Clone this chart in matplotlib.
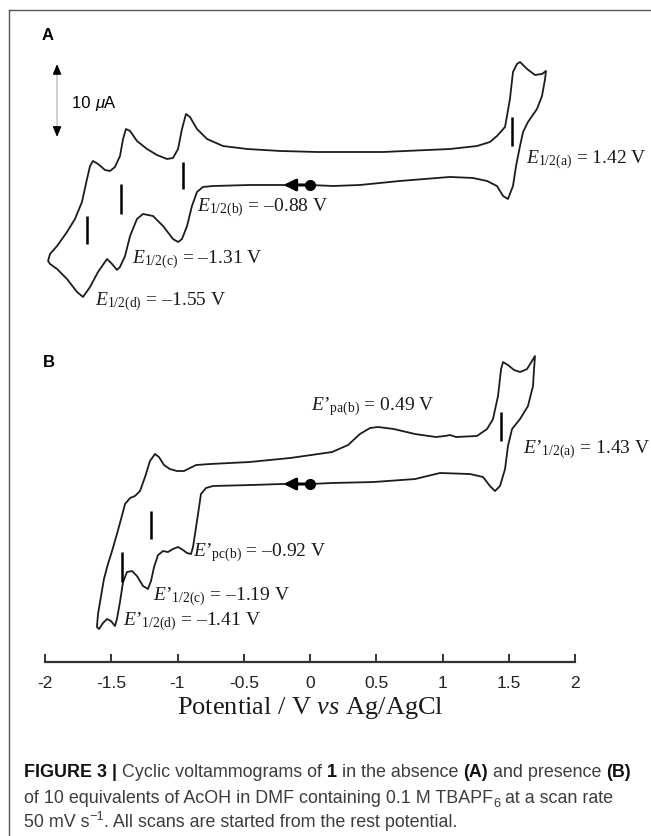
import matplotlib
matplotlib.use("Agg")
import matplotlib.pyplot as plt
from matplotlib.lines import Line2D

plt.rcParams['mathtext.fontset'] = 'custom'
plt.rcParams['mathtext.rm'] = 'Liberation Serif'
plt.rcParams['mathtext.it'] = 'Liberation Serif:italic'
plt.rcParams['mathtext.bf'] = 'Liberation Serif:bold'
plt.rcParams['mathtext.sf'] = 'Liberation Sans'

# ---------------- data ----------------
# Panel A (no AcOH): potential (V) and current (uA, relative to rest-potential point)
a_pot = [0.0, -0.226, -0.453, -0.732, -0.808, -0.853, -0.891, -0.928, -0.966, -0.996,
         -1.034, -1.109, -1.185, -1.260, -1.306, -1.358, -1.396, -1.434, -1.457, -1.494,
         -1.532, -1.600, -1.660, -1.713, -1.758, -1.834, -1.909, -1.962, -1.977,
         -1.962, -1.909, -1.834, -1.774, -1.721, -1.683, -1.660, -1.638, -1.600, -1.547,
         -1.509, -1.472, -1.434, -1.411, -1.389, -1.358, -1.306, -1.230, -1.155, -1.079,
         -1.034, -0.996, -0.966, -0.936, -0.906, -0.853, -0.777, -0.657, -0.475, -0.226,
         0.053, 0.551, 1.057, 1.260, 1.358, 1.411, 1.472, 1.509, 1.532, 1.562,
         1.585, 1.638, 1.698, 1.751, 1.781,
         1.774, 1.751, 1.713, 1.645, 1.608, 1.585, 1.555, 1.532, 1.494, 1.457,
         1.411, 1.336, 1.230, 1.057, 0.679, 0.377, 0.174, 0.0]
a_cur = [0.0, 0.0, 0.0, -0.14, -0.27, -0.96, -2.88, -5.62, -7.40, -7.81,
         -7.40, -5.62, -4.25, -3.97, -4.66, -6.99, -9.73, -11.23, -11.64, -10.82,
         -10.14, -11.92, -13.97, -15.34, -14.66, -12.88, -11.51, -10.82, -10.41,
         -9.45, -8.36, -6.44, -4.66, -2.33, 0.82, 2.60, 3.29, 2.88, 2.05,
         1.92, 2.47, 3.97, 6.30, 7.67, 7.40, 6.03, 4.93, 4.11, 3.56,
         3.70, 4.93, 7.67, 9.73, 9.32, 7.67, 6.30, 5.34, 4.93, 4.66,
         4.52, 4.52, 4.93, 5.34, 5.89, 6.71, 7.95, 11.78, 15.48, 16.58,
         16.85, 15.89, 15.07, 15.21, 15.62,
         14.52, 12.19, 10.41, 8.63, 7.26, 5.34, 2.60, -0.14, -1.92, -1.51,
         -0.14, 0.55, 0.96, 1.10, 0.55, 0.0, -0.14, 0.0]

# Panel B (10 eq AcOH)
b_pot = [0.0, -0.211, -0.453, -0.732, -0.785, -0.823, -0.845, -0.868, -0.883, -0.898,
         -0.928, -0.958, -0.996, -1.034, -1.072, -1.109, -1.147, -1.177, -1.200, -1.223,
         -1.260, -1.306, -1.343, -1.381, -1.411, -1.434, -1.457, -1.472, -1.502, -1.532,
         -1.562, -1.592, -1.608,
         -1.600, -1.577, -1.555, -1.525, -1.494, -1.457, -1.426, -1.396, -1.358, -1.321,
         -1.283, -1.245, -1.208, -1.170, -1.140, -1.102, -1.057, -1.004, -0.951, -0.906,
         -0.860, -0.755, -0.460, -0.151, 0.166, 0.287, 0.377, 0.453, 0.513, 0.634,
         0.792, 0.951, 1.019, 1.057, 1.102, 1.260, 1.336, 1.381, 1.419, 1.442,
         1.457, 1.494, 1.540, 1.585, 1.638, 1.675, 1.698,
         1.691, 1.683, 1.645, 1.585, 1.525, 1.494, 1.472, 1.434, 1.396, 1.358,
         1.306, 1.208, 0.981, 0.792, 0.475, 0.166, 0.0]
b_cur = [0.0, 0.0, -0.14, -0.27, -0.55, -1.37, -4.11, -6.85, -8.63, -9.59,
         -9.45, -9.04, -8.63, -8.90, -9.32, -9.18, -9.73, -11.37, -13.29, -14.38,
         -13.97, -12.60, -11.92, -12.05, -13.42, -16.16, -18.49, -19.45, -18.77, -18.49,
         -19.04, -19.86, -19.59,
         -17.81, -15.34, -13.01, -10.96, -9.18, -6.85, -4.79, -2.74, -1.92, -1.64,
         -0.96, 0.96, 3.15, 4.11, 3.70, 2.60, 2.05, 1.78, 1.78, 2.19,
         2.60, 2.74, 3.01, 3.56, 4.38, 5.34, 6.85, 7.67, 7.81, 7.53,
         6.85, 6.44, 6.58, 6.71, 6.44, 6.58, 7.53, 8.90, 12.05, 15.75,
         16.71, 16.30, 15.62, 15.34, 15.75, 16.85, 17.53,
         15.75, 13.42, 10.68, 8.90, 7.53, 5.21, 2.05, -0.27, -0.96, -0.27,
         0.96, 1.37, 1.51, 0.68, 0.27, 0.14, 0.0]

# E1/2 marker bars: potential, current bottom, current top
a_marks_pot = [-1.683, -1.426, -0.958, 1.525]
a_marks_lo = [-8.08, -3.97, -0.55, 5.34]
a_marks_hi = [-4.25, 0.14, 3.15, 9.32]
b_marks_pot = [-1.419, -1.200, 1.442]
b_marks_lo = [-13.42, -7.53, 5.89]
b_marks_hi = [-9.32, -3.70, 9.86]

# annotation labels (text, potential, current)
a_labels = [(r"$E_{\mathrm{1/2(a)}}$ = 1.42 V", 1.630, 3.56),
            (r"$E_{\mathrm{1/2(b)}}$ = –0.88 V", -0.853, -3.01),
            (r"$E_{\mathrm{1/2(c)}}$ = –1.31 V", -1.343, -10.14),
            (r"$E_{\mathrm{1/2(d)}}$ = –1.55 V", -1.623, -15.89)]
b_labels = [(r"$E\mathrm{’}_{\mathrm{pa(b)}}$ = 0.49 V", 0.008, 10.68),
            (r"$E\mathrm{’}_{\mathrm{1/2(a)}}$ = 1.43 V", 1.608, 4.79),
            (r"$E\mathrm{’}_{\mathrm{pc(b)}}$ = –0.92 V", -0.883, -9.32),
            (r"$E\mathrm{’}_{\mathrm{1/2(c)}}$ = –1.19 V", -1.185, -15.34),
            (r"$E\mathrm{’}_{\mathrm{1/2(d)}}$ = –1.41 V", -1.411, -18.77)]

x_ticks = [-2, -1.5, -1, -0.5, 0, 0.5, 1, 1.5, 2]
x_ticklabels = ["-2", "-1.5", "-1", "-0.5", "0", "0.5", "1", "1.5", "2"]
scale_bar = (-1.909, 6.58, 16.58)   # potential, current bottom, current top (10 uA)

# ---------------- figure ----------------
W, H = 651, 837
fig = plt.figure(figsize=(W / 100, H / 100), dpi=100)


def px_axes(left, top, right, bottom):
    return fig.add_axes([left / W, 1 - bottom / H, (right - left) / W, (bottom - top) / H])


def ftext(x, y, s, **kw):
    return fig.text(x / W, 1 - y / H, s, **kw)


LINE = '#1c1c1c'
axA = px_axes(45, 40, 575, 320)
axA.set_xlim(-2, 2)
axA.set_ylim(-18.36, 20.0)
axB = px_axes(45, 335, 575, 650)
axB.set_xlim(-2, 2)
axB.set_ylim(-22.6, 20.55)

for ax, pot, cur, mp, ml, mh, labels in [
        (axA, a_pot, a_cur, a_marks_pot, a_marks_lo, a_marks_hi, a_labels),
        (axB, b_pot, b_cur, b_marks_pot, b_marks_lo, b_marks_hi, b_labels)]:
    ax.axis('off')
    ax.plot(pot, cur, color=LINE, lw=1.3, solid_joinstyle='round', clip_on=False)
    ax.vlines(mp, ml, mh, color='black', lw=1.8)
    for s, x, y in labels:
        ax.text(x, y, s, fontsize=14, family='Liberation Serif', ha='left', va='center',
                color='#1a1a1a')
    # start point and scan direction
    ax.annotate('', xy=(-0.2, 0), xytext=(0.0, 0),
                arrowprops=dict(arrowstyle='-|>,head_length=0.7,head_width=0.35',
                                lw=2.2, color='black', shrinkA=0, shrinkB=0))
    ax.plot([0.0], [0.0], 'o', color='black', ms=7)

# scale bar
sx, sy0, sy1 = scale_bar
axA.plot([sx, sx], [sy0 + 0.6, sy1 - 0.6], color='#c8c8c8', lw=1.2)
for tip, tail in [(sy1, sy1 - 1.0), (sy0, sy0 + 1.0)]:
    axA.annotate('', xy=(sx, tip), xytext=(sx, tail),
                 arrowprops=dict(arrowstyle='-|>,head_length=0.6,head_width=0.25', color='black',
                                 lw=1, shrinkA=0, shrinkB=0))

# bottom axis
axX = px_axes(45, 620, 575, 663)
axX.set_xlim(-2, 2)
axX.set_ylim(0, 1)
for sp in ['top', 'left', 'right']:
    axX.spines[sp].set_visible(False)
axX.spines['bottom'].set_linewidth(1.6)
axX.spines['bottom'].set_color('#333333')
axX.patch.set_alpha(0)
axX.set_yticks([])
axX.set_xticks(x_ticks)
axX.set_xticklabels(x_ticklabels, fontsize=12.5, family='Liberation Sans', color='#222222')
axX.tick_params(axis='x', direction='in', length=6, width=1.4, color='#333333', pad=9)
axX.set_xlabel(r"Potential / V $\mathit{vs}$ Ag/AgCl", fontsize=19, family='Liberation Serif',
               labelpad=3, color='#1a1a1a')

# panel letters
ftext(48, 35, "A", fontsize=12, fontweight='bold', family='Liberation Sans', ha='center', va='center')
ftext(49, 363, "B", fontsize=12, fontweight='bold', family='Liberation Sans', ha='center', va='center')

# border
fig.add_artist(Line2D([9 / W, 9 / W], [0, 1 - 11 / H], transform=fig.transFigure, color='#555555', lw=1.0))
fig.add_artist(Line2D([9 / W, 1], [1 - 11 / H, 1 - 11 / H], transform=fig.transFigure, color='#555555', lw=1.0))

fig.canvas.draw()
renderer = fig.canvas.get_renderer()


def seg_width(s, **kw):
    t1 = fig.text(0, 0, "|" + s + "|", **kw)
    t2 = fig.text(0, 0, "||", **kw)
    w = t1.get_window_extent(renderer).width - t2.get_window_extent(renderer).width
    t1.remove()
    t2.remove()
    return w


def draw_line(x, y, segs):
    for s, kw in segs:
        dy = kw.pop('dy', 0)
        ftext(x, y + dy, s, va='baseline', ha='left', **kw)
        x += seg_width(s, **kw)


# "10 uA" label built from pieces
draw_line(72, 108, [("10 ", dict(fontsize=12, family='Liberation Sans')),
                    ("μ", dict(fontsize=12, family='Liberation Sans', style='italic')),
                    ("A", dict(fontsize=12, family='Liberation Sans'))])

CF = 'Liberation Sans'
CS = 12.9
CCOL = '#3d3d3d'
reg = dict(fontsize=CS, family=CF, color=CCOL)
bold = dict(fontsize=CS, family=CF, color='#111111', fontweight='bold')
draw_line(24, 777, [("FIGURE 3 | ", dict(bold)), ("Cyclic voltammograms of ", dict(reg)),
                    ("1", dict(bold)), (" in the absence ", dict(reg)), ("(A)", dict(bold)),
                    (" and presence ", dict(reg)), ("(B)", dict(bold))])
draw_line(24, 803, [("of 10 equivalents of AcOH in DMF containing 0.1 M TBAPF", dict(reg)),
                    ("6", dict(fontsize=CS * 0.72, family=CF, color=CCOL, dy=4)),
                    (" at a scan rate", dict(reg))])
draw_line(24, 827, [("50 mV s", dict(reg)),
                    ("−1", dict(fontsize=CS * 0.72, family=CF, color=CCOL, dy=-7)),
                    (". All scans are started from the rest potential.", dict(reg))])

fig.savefig("out.png", dpi=100)
